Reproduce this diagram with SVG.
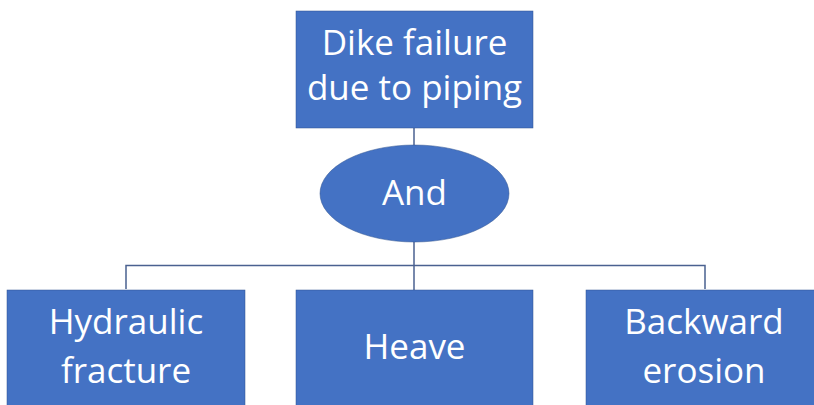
<svg xmlns="http://www.w3.org/2000/svg" width="814" height="405" viewBox="0 0 814 405">
<style>
.box{fill:#4472C4;stroke:#2F528F;stroke-width:0.5}
.t{fill:#ffffff;font-family:"Open Sans","Liberation Sans",sans-serif;font-size:35px;text-anchor:middle}
.c{fill:none;stroke:#4A6190;stroke-width:1.5}
</style>
<rect width="814" height="405" fill="#ffffff"/>
<g id="connectors">
<path class="c" d="M414 128V145"/>
<path class="c" d="M414 242V265.5"/>
<path class="c" d="M126 289V265.5H705V289"/>
<path class="c" d="M414 265.5V290"/>
</g>
<g id="top">
<rect class="box" x="296" y="11" width="237" height="117"/>
<text class="t" x="414.5" y="55">Dike failure</text>
<text class="t" x="414.5" y="100">due to piping</text>
</g>
<g id="and">
<ellipse class="box" cx="414.5" cy="193.5" rx="94.5" ry="48.5"/>
<text class="t" x="414.5" y="205">And</text>
</g>
<g id="hydraulic">
<rect class="box" x="7" y="290" width="238" height="130"/>
<text class="t" x="126" y="334">Hydraulic</text>
<text class="t" x="126" y="383">fracture</text>
</g>
<g id="heave">
<rect class="box" x="296" y="290" width="237" height="130"/>
<text class="t" x="414.5" y="359">Heave</text>
</g>
<g id="backward">
<rect class="box" x="586" y="290" width="237" height="130"/>
<text class="t" x="704" y="334">Backward</text>
<text class="t" x="704" y="383">erosion</text>
</g>
</svg>
